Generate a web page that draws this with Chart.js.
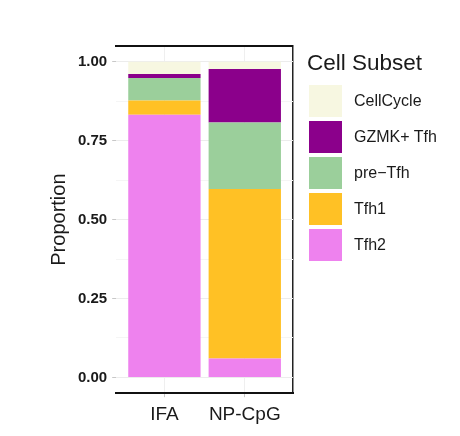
<!DOCTYPE html>
<html><head><meta charset="utf-8">
<script src="https://cdn.jsdelivr.net/npm/chart.js@4"></script>
<style>
html,body{margin:0;padding:0;background:#fff;}
#wrap{position:relative;width:460px;height:436px;font-family:'Liberation Sans',Arial,sans-serif;color:#1a1a1a;}
#c{position:absolute;left:0;top:0;}
#legend{position:absolute;left:307px;top:46px;}
#legend .title{font-size:22.5px;line-height:34px;height:39px;white-space:nowrap;}
#legend .item{position:relative;height:36px;}
#legend .box{position:absolute;left:2px;top:0;width:33px;height:32px;}
#legend .lab{position:absolute;left:47px;top:0;line-height:32px;font-size:16px;white-space:nowrap;}
</style>
</head><body><div id="wrap"><canvas id="c" width="460" height="436"></canvas><div id="legend"></div></div>
<script>
// ---- data ----
const categories = ['IFA', 'NP-CpG'];
const subsetNames = ['Tfh2', 'Tfh1', 'pre\u2212Tfh', 'GZMK+ Tfh', 'CellCycle'];
const tfh2 = [0.832, 0.060];
const tfh1 = [0.045, 0.537];
const preTfh = [0.072, 0.211];
const gzmkTfh = [0.012, 0.169];
const cellCycle = [0.039, 0.023];
const yTickValues = [0, 0.25, 0.5, 0.75, 1];
const yMinorValues = [0.125, 0.375, 0.625, 0.875];
const legendTitle = 'Cell Subset';

// ---- styles ----
const subsetColors = ['#EE82EE', '#FFC125', '#9BCF9B', '#8B008B', '#F7F7E1'];
Chart.defaults.font.family = "'Liberation Sans', Arial, sans-serif";

const seriesValues = [tfh2, tfh1, preTfh, gzmkTfh, cellCycle];
const datasets = subsetNames.map((name, k) => ({
  label: name,
  data: categories.map((c, i) => ({ x: i + 1, y: seriesValues[k][i] })),
  backgroundColor: subsetColors[k],
  borderWidth: 0,
  barPercentage: 0.9,
  categoryPercentage: 1
}));

const isMajor = v => yTickValues.some(t => Math.abs(t - v) < 1e-9);
const xMin = 0.4, xMax = categories.length + 0.6;

new Chart(document.getElementById('c'), {
  type: 'bar',
  data: { datasets },
  options: {
    responsive: false,
    animation: false,
    devicePixelRatio: 1,
    layout: { padding: { left: 35, right: 167, top: 46, bottom: 4 } },
    plugins: { tooltip: { enabled: false }, legend: { display: false } },
    scales: {
      x: {
        type: 'linear', stacked: true, min: xMin, max: xMax, position: 'bottom', offset: false,
        afterBuildTicks: s => { s.ticks = categories.map((c, i) => ({ value: i + 1 })); },
        ticks: { callback: v => categories[Math.round(v) - 1] || '', font: { size: 19 }, color: '#1a1a1a', padding: 6, autoSkip: false, maxRotation: 0 },
        grid: { offset: false, color: '#efefef', lineWidth: 1, tickLength: 4, tickColor: '#c8c8c8' },
        border: { display: true, color: '#111', width: 2 }
      },
      x2: {
        type: 'linear', position: 'top', min: xMin, max: xMax, offset: false,
        afterBuildTicks: s => { s.ticks = [{ value: xMax }]; },
        ticks: { display: false },
        grid: { offset: false, display: true, drawOnChartArea: true, drawTicks: false, color: '#222', lineWidth: 1.5 },
        border: { display: true, color: '#111', width: 2 }
      },
      y: {
        stacked: true, min: -0.05, max: 1.05,
        afterBuildTicks: s => { s.ticks = yTickValues.concat(yMinorValues).sort((a, b) => a - b).map(v => ({ value: v })); },
        ticks: { callback: v => isMajor(v) ? v.toFixed(2) : '', font: { size: 15, weight: 'bold' }, color: '#1a1a1a', padding: 5, autoSkip: false },
        grid: {
          color: c => (c.tick && isMajor(c.tick.value)) ? '#ececec' : '#f5f5f5',
          tickLength: 4,
          tickColor: c => (c.tick && isMajor(c.tick.value)) ? '#c8c8c8' : 'rgba(0,0,0,0)'
        },
        border: { display: false },
        title: { display: true, text: 'Proportion', font: { size: 20 }, color: '#1a1a1a', padding: { top: 12, bottom: 2 } }
      }
    }
  }
});

// ---- legend (HTML, built from the same arrays) ----
const legend = document.getElementById('legend');
const t = document.createElement('div');
t.className = 'title';
t.textContent = legendTitle;
legend.appendChild(t);
for (let k = subsetNames.length - 1; k >= 0; k--) {
  const item = document.createElement('div');
  item.className = 'item';
  const box = document.createElement('span');
  box.className = 'box';
  box.style.background = subsetColors[k];
  const lab = document.createElement('span');
  lab.className = 'lab';
  lab.textContent = subsetNames[k];
  item.appendChild(box);
  item.appendChild(lab);
  legend.appendChild(item);
}
</script>
</body></html>
